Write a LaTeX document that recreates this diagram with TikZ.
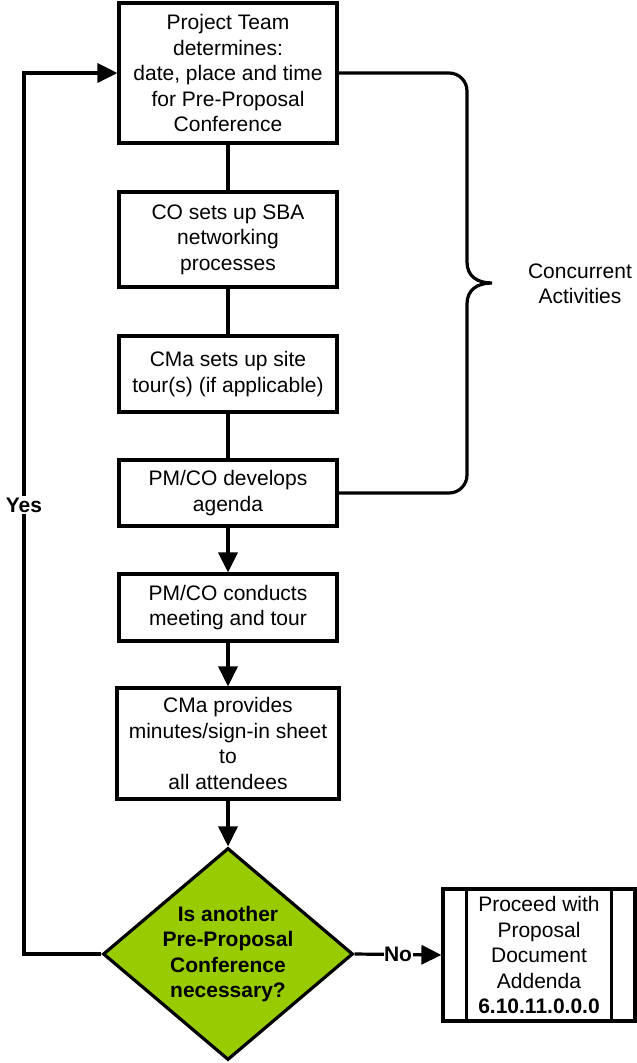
\documentclass[tikz,border=0pt]{standalone}
\usepackage{fontspec}
\setmainfont{Liberation Sans}
\usetikzlibrary{arrows.meta,shapes.geometric}
\definecolor{dgreen}{RGB}{153,204,0}
\begin{document}
\begin{tikzpicture}[x=1pt,y=1pt,
  every node/.style={font=\fontsize{21}{25.5}\selectfont, align=center},
  proc/.style={draw, line width=3.2pt, rectangle, inner sep=0pt, minimum width=218pt},
  ln/.style={line width=3.2pt},
  arr/.style={ln, -{Triangle[length=20pt,width=19pt]}},
  lbl/.style={fill=white, inner sep=1.5pt, font=\fontsize{21}{25.5}\selectfont\bfseries},
  dec/.style={draw, line width=3.2pt, diamond, fill=dgreen, aspect=1.18, inner sep=0pt,
    minimum width=250pt, minimum height=212pt, font=\fontsize{21}{25.5}\selectfont\bfseries}]
\useasboundingbox (0,0) rectangle (637,-1063);
\node[proc, minimum height=140pt] (b1) at (228,-73) {Project Team\\determines:\\date, place and time\\for Pre-Proposal\\Conference};
\node[proc, minimum height=95pt] (b2) at (228,-239.5) {CO sets up SBA\\networking\\processes};
\node[proc, minimum height=76pt] (b3) at (228,-374) {CMa sets up site\\tour(s) (if applicable)};
\node[proc, minimum height=66pt] (b4) at (228,-493) {PM/CO develops\\agenda};
\node[proc, minimum height=67pt] (b5) at (228,-607.5) {PM/CO conducts\\meeting and tour};
\node[proc, minimum width=222pt, minimum height=111pt] (b6) at (228,-743.5) {CMa provides\\minutes/sign-in sheet\\to\\all attendees};
\node[dec] (d) at (228,-954) {Is another\\Pre-Proposal\\Conference\\necessary?};
\node[proc, minimum width=192pt, minimum height=132pt] (p) at (539,-955) {Proceed with\\Proposal\\Document\\Addenda\\\textbf{6.10.11.0.0.0}};
\draw[ln] ([xshift=25pt]p.north west) -- ([xshift=25pt]p.south west);
\draw[ln] ([xshift=-25pt]p.north east) -- ([xshift=-25pt]p.south east);
% connectors
\draw[ln] (b1) -- (b2);
\draw[ln] (b2) -- (b3);
\draw[ln] (b3) -- (b4);
\draw[arr] (b4) -- (b5);
\draw[arr] (b5) -- (b6);
\draw[arr] (b6) -- (d);
\coordinate (loopx) at (24,0);
\draw[arr] (d.west) -- (d.west -| loopx) -- (b1.west -| loopx) -- (b1.west);
\node[lbl] (yes) at (24,-505) {Yes};
\draw[arr] (d.east) -- node[lbl, inner sep=0.5pt] (no) {No} (p.west);
% brace
\coordinate (tip) at (492,-283);
\draw[ln] (b1.east) -- (449,-73) arc[start angle=90,end angle=0,radius=18]
  -- (467,-262) .. controls (467,-276) and (477,-283) .. (tip)
  .. controls (477,-283) and (467,-290) .. (467,-304)
  -- (467,-475) arc[start angle=0,end angle=-90,radius=18] -- (b4.east);
\node (conc) at (580,-284) {Concurrent\\Activities};
\end{tikzpicture}
\end{document}
